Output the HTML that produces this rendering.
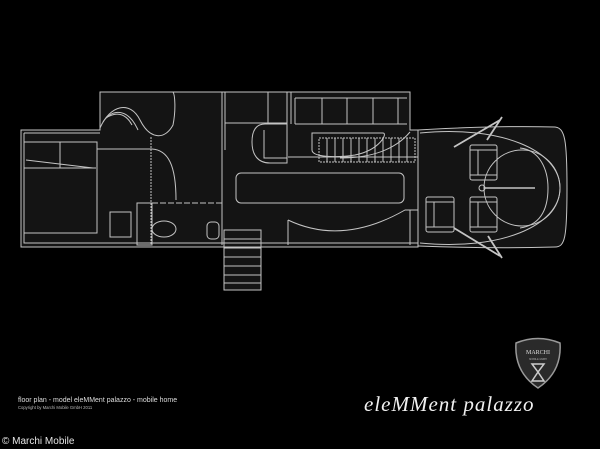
<!DOCTYPE html>
<html><head><meta charset="utf-8"><style>
html,body{margin:0;padding:0;background:#000;}
body{width:600px;height:449px;overflow:hidden;position:relative;font-family:"Liberation Sans",sans-serif;}
svg{position:absolute;left:0;top:0;}
</style></head><body>
<svg width="600" height="449" viewBox="0 0 600 449">
<rect width="600" height="449" fill="#000"/>
<path d="M21 130 H100 V92 H410 V130 H418 C470 127 520 126 555 127 C565 128 567 140 567 188 C567 238 565 247 555 247 C520 248 470 248 418 246 V247 H21 Z" fill="#141414"/>
<rect x="224" y="230" width="37" height="60" fill="#141414"/>
<g fill="none" stroke="#c4c4c4" stroke-width="1">
<path d="M21 130 H100 V92 H410 V130 H418 V247 H21 Z"/>
<path d="M24 133 H100"/>
<path d="M24 133 V243 H418"/>
<rect x="24" y="142" width="73" height="91"/>
<path d="M24 168 H96 M60 142 V168 M26 160 L93 168"/>
<path d="M100 128 C110 105 130 100 140 120 C150 140 165 140 173 125 C176 110 175 95 173 92"/>
<path d="M103 122 C112 108 128 108 138 130"/>
<path d="M106 118 C115 112 125 112 132 125"/>
<path d="M151 137 V245" stroke-dasharray="2,1"/>
<path d="M97 149 H152 C168 150 176 165 176 200"/>
<path d="M222 92 V245"/>
<path d="M225 92 V150 M225 123 H287"/>
<rect x="110" y="212" width="21" height="25"/>
<rect x="137" y="203" width="15" height="42"/>
<path d="M152 203 H222" stroke-dasharray="6,2"/>
<ellipse cx="164" cy="229" rx="12" ry="8"/>
<rect x="207" y="222" width="12" height="17" rx="4"/>
<rect x="224" y="230" width="37" height="60"/>
<path d="M224 239 H261 M224 248 H261 M224 257 H261 M224 266 H261 M224 275 H261 M224 283 H261"/>
<path d="M287 124 H265 C255 124 252 132 252 142 C252 155 258 163 270 163 H287 V124 Z M264 130 V158 H287"/>
<path d="M268 92 V124 M287 92 V124 M291 92 V124"/>
<rect x="236" y="173" width="168" height="30" rx="5"/>
<path d="M295 98 H407 M295 124 H407 M295 98 V124 M322 98 V124 M347 98 V124 M373 98 V124 M398 98 V124"/>
<rect x="319" y="138" width="96" height="24" stroke-dasharray="2,1"/>
<path d="M327 138 V162 M335 138 V162 M343 138 V162 M351 138 V162 M359 138 V162 M367 138 V162 M375 138 V162 M383 138 V162 M391 138 V162 M399 138 V162 M407 138 V162"/>
<path d="M312 133 H383 C388 133 380 150 355 155 C335 158 312 157 312 150 Z"/>
<path d="M410 132 C395 150 370 158 340 158"/>
<path d="M288 157 H418"/>
<path d="M288 220 C330 240 370 230 405 210 H418 M288 220 V245 M410 210 V245"/>
<path d="M418 130 C470 127 520 126 555 127 C565 128 567 140 567 188 C567 238 565 247 555 247 C520 248 470 248 418 246"/>
<path d="M420 133 C500 125 560 150 560 188 C560 226 500 251 420 243"/>
<path d="M520 148 C540 150 548 170 548 188 C548 210 540 225 520 228"/>
<circle cx="522" cy="188" r="38"/>
<rect x="470" y="145" width="27" height="35" rx="2"/><path d="M470 150 H497 M470 175 H497 M478 150 V175"/>
<rect x="470" y="197" width="27" height="35" rx="2"/><path d="M470 202 H497 M470 227 H497 M478 202 V227"/>
<rect x="426" y="197" width="28" height="35" rx="2"/><path d="M426 202 H454 M426 227 H454 M434 202 V227"/>
<path d="M454 147 L500 120 M487 140 L502 117 M454 228 L500 256 M488 236 L502 258" stroke-width="1.8"/>
<circle cx="482" cy="188" r="3"/>
<path d="M485 188 H535" stroke-width="1.5"/>
</g>
<path d="M516 343 Q538 334 560 343 Q562 372 538 388 Q514 372 516 343 Z" fill="#2a2a2a" stroke="#999" stroke-width="1.5"/>
<text x="538" y="354" font-size="6" fill="#ddd" text-anchor="middle" font-family="Liberation Serif">MARCHI</text>
<text x="538" y="360" font-size="2.5" fill="#aaa" text-anchor="middle">MOBILE GMBH</text>
<path d="M532 364 L544 364 L538 372 L544 381 L532 381 L538 372 Z" fill="none" stroke="#ccc" stroke-width="1.5"/>
<text x="18" y="402" font-size="7" fill="#ddd">floor plan - model eleMMent palazzo - mobile home</text>
<text x="18" y="409" font-size="4.2" fill="#bbb">Copyright by Marchi Mobile GmbH 2011</text>
<text x="2" y="444" font-size="10" fill="#e5e5e5">© Marchi Mobile</text>
<text x="364" y="411" font-size="21" fill="#f0f0f0" font-style="italic" font-family="Liberation Serif" letter-spacing="1">eleMMent palazzo</text>
</svg>
</body></html>
